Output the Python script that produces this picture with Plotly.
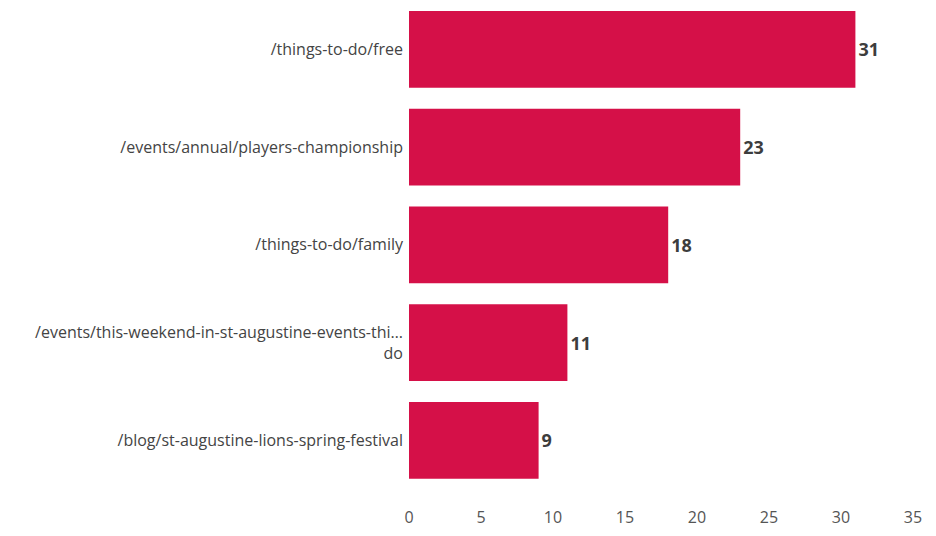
import plotly.graph_objects as go

categories = [
    "/things-to-do/free",
    "/events/annual/players-championship",
    "/things-to-do/family",
    "/events/this-weekend-in-st-augustine-events-thi…<br>do",
    "/blog/st-augustine-lions-spring-festival",
]
values = [31, 23, 18, 11, 9]
tick_vals = [0, 5, 10, 15, 20, 25, 30, 35]

fig = go.Figure(
    go.Bar(
        y=categories,
        x=values,
        orientation="h",
        marker=dict(color="#D51048", line=dict(width=0)),
        text=[f"<b>{v}</b>" for v in values],
        textposition="outside",
        textfont=dict(family="Open Sans", size=18, color="#3d3d3d"),
        cliponaxis=False,
        hoverinfo="skip",
    )
)

fig.update_layout(
    width=936,
    height=536,
    margin=dict(l=401, r=31, t=0, b=36, autoexpand=False),
    paper_bgcolor="white",
    plot_bgcolor="white",
    bargap=0.215,
    showlegend=False,
    font=dict(family="Open Sans", size=16, color="#444444"),
    xaxis=dict(
        range=[0, 35],
        tickvals=tick_vals,
        showgrid=False,
        zeroline=False,
        showline=False,
        ticks="",
        ticklabelstandoff=-2,
        tickfont=dict(family="Open Sans", size=16, color="#555555"),
    ),
    yaxis=dict(
        range=[4.693, -0.4225],
        showgrid=False,
        zeroline=False,
        showline=False,
        ticks="",
        ticklabelstandoff=5,
        tickfont=dict(family="Open Sans", size=16, color="#444444"),
    ),
)

fig.write_html("out.html")
